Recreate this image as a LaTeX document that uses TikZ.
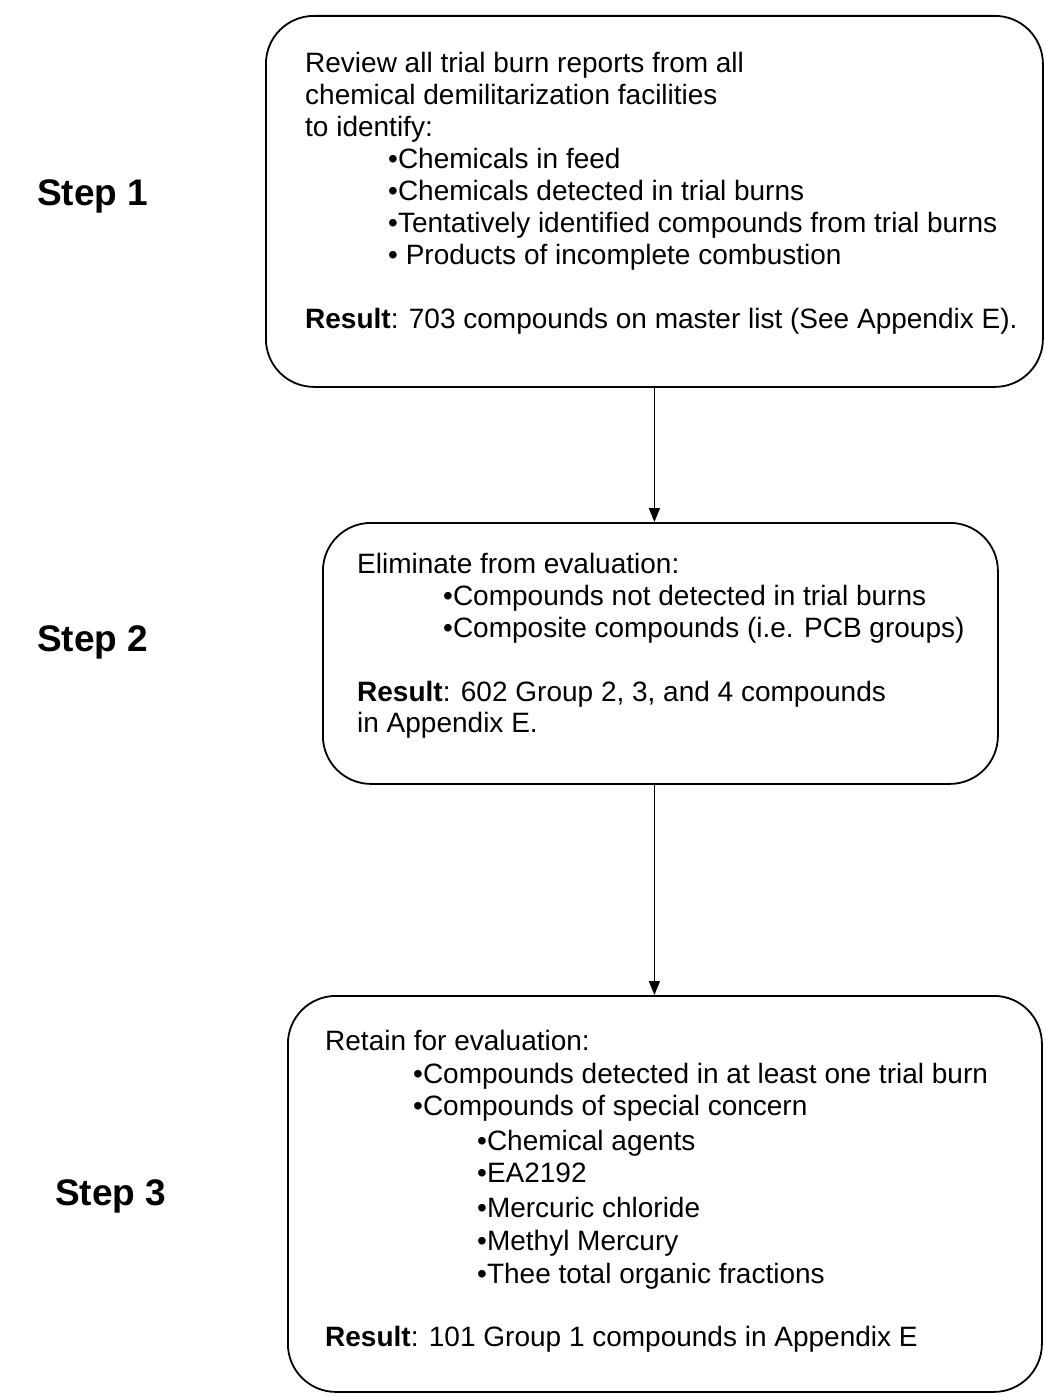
\documentclass[tikz,border=0pt]{standalone}
\usepackage{fontspec}
\setmainfont{Liberation Sans}
\usetikzlibrary{arrows.meta}
\begin{document}
\begin{tikzpicture}[x=1pt,y=-1pt,
  stepbox/.style={draw=black, line width=1.8pt, rounded corners=48pt},
  txt/.style={anchor=base west, inner sep=0pt, font=\fontsize{28}{32}\selectfont},
  steplabel/.style={anchor=base west, inner sep=0pt, font=\fontsize{37}{40}\selectfont\bfseries},
  arr/.style={line width=1.6pt, -{Triangle[length=14pt,width=11pt]}}]
\useasboundingbox (0,0) rectangle (1044,1397);
% boxes
\node[stepbox, minimum width=777pt, minimum height=371pt, anchor=north west] (b1) at (265,15) {};
\node[stepbox, minimum width=675pt, minimum height=261pt, anchor=north west] (b2) at (322,522) {};
\node[stepbox, minimum width=754pt, minimum height=396pt, anchor=north west] (b3) at (287,995) {};
% arrows
\draw[arr] (b1.south) -- (b1.south |- b2.north);
\draw[arr] (b2.south -| b1.south) -- (b1.south |- b3.north);
% step labels
\node[steplabel] (s1) at (37,205) {Step 1};
\node[steplabel] (s2) at (37,651) {Step 2};
\node[steplabel] (s3) at (55,1205) {Step 3};
% box 1 text
\node[txt] (t11) at (305,72) {Review all trial burn reports from all};
\node[txt] (t12) at (305,104) {chemical demilitarization facilities};
\node[txt] (t13) at (305,136) {to identify:};
\node[txt] (t14) at (388,168) {•Chemicals in feed};
\node[txt] (t15) at (388,200) {•Chemicals detected in trial burns};
\node[txt] (t16) at (388,232) {•Tentatively identified compounds from trial burns};
\node[txt] (t17) at (388,264) {• Products of incomplete combustion};
\node[txt] (t18) at (305,328) {\textbf{Result}: 703 compounds on master list (See Appendix E).};
% box 2 text
\node[txt] (t21) at (357,573) {Eliminate from evaluation:};
\node[txt] (t22) at (443,605) {•Compounds not detected in trial burns};
\node[txt] (t23) at (443,637) {•Composite compounds (i.e. PCB groups)};
\node[txt] (t24) at (357,701) {\textbf{Result}: 602 Group 2, 3, and 4 compounds};
\node[txt] (t25) at (357,732) {in Appendix E.};
% box 3 text
\node[txt] (t31) at (325,1050) {Retain for evaluation:};
\node[txt] (t32) at (413,1083) {•Compounds detected in at least one trial burn};
\node[txt] (t33) at (413,1115) {•Compounds of special concern};
\node[txt] (t34) at (477,1150) {•Chemical agents};
\node[txt] (t35) at (477,1182) {•EA2192};
\node[txt] (t36) at (477,1217) {•Mercuric chloride};
\node[txt] (t37) at (477,1250) {•Methyl Mercury};
\node[txt] (t38) at (477,1283) {•Thee total organic fractions};
\node[txt] (t39) at (325,1346) {\textbf{Result}: 101 Group 1 compounds in Appendix E};
\end{tikzpicture}
\end{document}
